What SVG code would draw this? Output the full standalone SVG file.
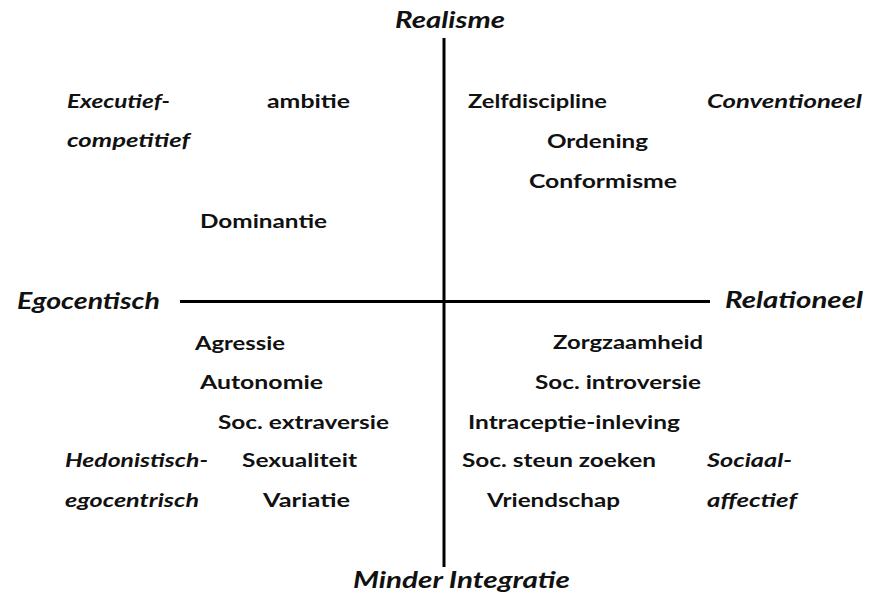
<svg xmlns="http://www.w3.org/2000/svg" width="869" height="597" viewBox="0 0 869 597">
<style>
text { font-family: Lato, "Open Sans", "Liberation Sans", sans-serif; font-weight: bold; fill: #111; }
.t { font-size: 18px; }
.it { font-size: 18px; font-style: italic; }
.ax { font-size: 22px; font-style: italic; }
.axis { stroke: #000; stroke-width: 3; fill: none; }
</style>
<rect width="869" height="597" fill="#fff"/>
<g id="connectors">
  <line class="axis" x1="444" y1="38" x2="444" y2="567"/>
  <line class="axis" x1="180" y1="301.5" x2="710" y2="301.5"/>
</g>
<g id="axis-labels">
  <g id="realisme"><text class="ax" x="395" y="28" textLength="110" lengthAdjust="spacingAndGlyphs">Realisme</text></g>
  <g id="egocentisch"><text class="ax" x="17" y="309" textLength="143" lengthAdjust="spacingAndGlyphs">Egocentisch</text></g>
  <g id="relationeel"><text class="ax" x="725" y="308" textLength="138" lengthAdjust="spacingAndGlyphs">Relationeel</text></g>
  <g id="minder-integratie"><text class="ax" x="353" y="588" textLength="217" lengthAdjust="spacingAndGlyphs">Minder Integratie</text></g>
</g>
<g id="quadrant-labels">
  <g id="executief"><text class="it" x="67" y="108" textLength="103" lengthAdjust="spacingAndGlyphs">Executief-</text><text class="it" x="67" y="147" textLength="123" lengthAdjust="spacingAndGlyphs">competitief</text></g>
  <g id="conventioneel"><text class="it" x="707" y="108" textLength="155" lengthAdjust="spacingAndGlyphs">Conventioneel</text></g>
  <g id="hedonistisch"><text class="it" x="65" y="467" textLength="143" lengthAdjust="spacingAndGlyphs">Hedonistisch-</text><text class="it" x="65" y="507" textLength="134" lengthAdjust="spacingAndGlyphs">egocentrisch</text></g>
  <g id="sociaal"><text class="it" x="707" y="467" textLength="85" lengthAdjust="spacingAndGlyphs">Sociaal-</text><text class="it" x="707" y="507" textLength="90" lengthAdjust="spacingAndGlyphs">affectief</text></g>
</g>
<g id="traits">
  <g id="ambitie"><text class="t" x="267" y="108" textLength="83" lengthAdjust="spacingAndGlyphs">ambitie</text></g>
  <g id="dominantie"><text class="t" x="200" y="228" textLength="127" lengthAdjust="spacingAndGlyphs">Dominantie</text></g>
  <g id="zelfdiscipline"><text class="t" x="468" y="108" textLength="139" lengthAdjust="spacingAndGlyphs">Zelfdiscipline</text></g>
  <g id="ordening"><text class="t" x="547" y="148" textLength="101" lengthAdjust="spacingAndGlyphs">Ordening</text></g>
  <g id="conformisme"><text class="t" x="529" y="188" textLength="148" lengthAdjust="spacingAndGlyphs">Conformisme</text></g>
  <g id="agressie"><text class="t" x="195" y="350" textLength="90" lengthAdjust="spacingAndGlyphs">Agressie</text></g>
  <g id="autonomie"><text class="t" x="200" y="389" textLength="123" lengthAdjust="spacingAndGlyphs">Autonomie</text></g>
  <g id="soc-extraversie"><text class="t" x="218" y="429" textLength="171" lengthAdjust="spacingAndGlyphs">Soc. extraversie</text></g>
  <g id="sexualiteit"><text class="t" x="242" y="467" textLength="115" lengthAdjust="spacingAndGlyphs">Sexualiteit</text></g>
  <g id="variatie"><text class="t" x="263" y="507" textLength="87" lengthAdjust="spacingAndGlyphs">Variatie</text></g>
  <g id="zorgzaamheid"><text class="t" x="553" y="349" textLength="150" lengthAdjust="spacingAndGlyphs">Zorgzaamheid</text></g>
  <g id="soc-introversie"><text class="t" x="535" y="389" textLength="166" lengthAdjust="spacingAndGlyphs">Soc. introversie</text></g>
  <g id="intraceptie"><text class="t" x="468" y="429" textLength="212" lengthAdjust="spacingAndGlyphs">Intraceptie-inleving</text></g>
  <g id="soc-steun"><text class="t" x="462" y="467" textLength="194" lengthAdjust="spacingAndGlyphs">Soc. steun zoeken</text></g>
  <g id="vriendschap"><text class="t" x="487" y="507" textLength="133" lengthAdjust="spacingAndGlyphs">Vriendschap</text></g>
</g>
</svg>
